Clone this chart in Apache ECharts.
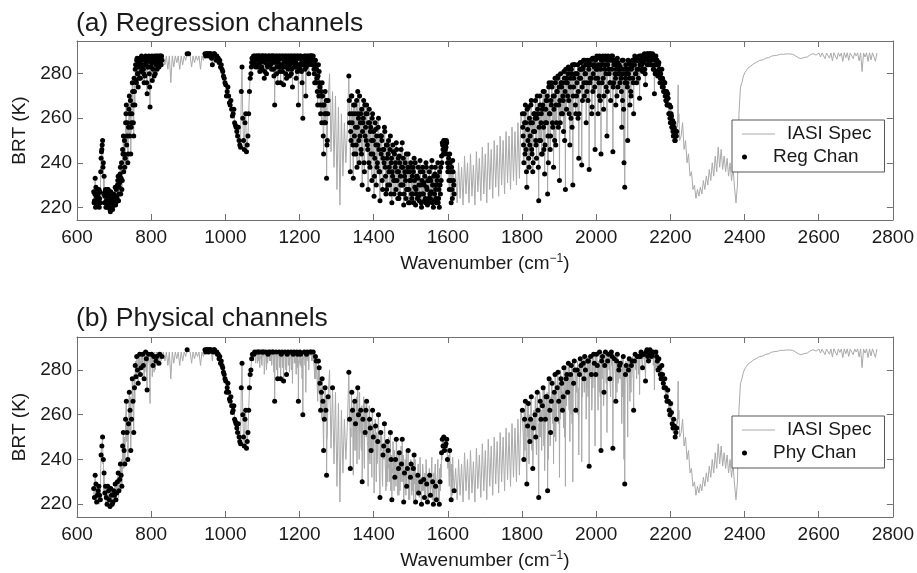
<!DOCTYPE html>
<html>
<head>
<meta charset="utf-8">
<title>IASI channels</title>
<script src="https://cdn.jsdelivr.net/npm/echarts@6/dist/echarts.min.js"></script>
<style>
  html, body { margin: 0; padding: 0; background: #fff; }
  #chart { width: 917px; height: 573px; }
</style>
</head>
<body>
<div id="chart"></div>
<script>
// IASI spectrum, brightness temperature (K), sampled every 4 cm-1 in the three bands
var band1Start = 645;
var band1Brt = [
    227, 233, 221, 226, 224, 242, 250, 234, 228, 220, 226, 219, 224, 221,                   // 645-697
    224, 222, 230, 226, 238, 228, 252, 238, 266, 240, 270, 244, 276, 252, 282,              // 701-757
    286, 274, 287, 281, 287, 276, 288, 271, 287, 265, 287, 282, 288, 284, 288, 283, 288, 286, // 761-829
    288, 284, 288, 282, 288, 276, 288, 283, 288, 285, 288, 282, 288, 284, 288,
    286, 289, 289, 288, 283, 288, 285, 288, 286, 288, 282, 288, 286, 289, 289,              // 833-949
    289, 289, 289, 284, 289, 288, 288, 287, 286, 284, 281, 278,                             // 953-997
    275, 272, 270, 266, 264, 262, 258, 256, 252, 250, 247, 283, 250, 258, 245, 252, 272,    // 1001-1065
    280, 287, 287, 284, 288, 288, 281, 288, 288, 278, 288, 284, 288, 288, 282, 288, 266, 288,
    276, 288, 276, 288, 275, 288, 278, 288, 279, 288, 274, 288, 283, 288, 266, 288, 281, 260 // 1069-1209
];
var band2Start = 1213;
var band2Brt = [
    288, 270, 288, 280, 288, 284, 288, 276, 284, 266, 281, 262, 276, 244, 272, 233, 268,    // 1213-1277
    280, 245, 272, 238, 270, 228, 265, 221, 262, 234, 258, 240, 255,                        // 1281-1329
    279, 236, 270, 233, 266, 248, 272, 240, 262, 230, 268, 252, 266, 228, 258, 244, 262, 225,
    255, 238, 260, 223, 252, 242, 256, 226, 248, 236, 252, 222, 245, 232, 249, 224, 243, 230,
    249, 221, 240, 228, 244, 222, 238, 226, 242, 221, 234, 225, 241, 220, 236, 223, 240, 221,
    232, 224, 241, 220, 235, 222, 240, 220, 238, 249, 250, 246, 249, 238, 244, 222, 241, 226, // 1333-1617
    236, 222, 240, 224, 238, 221, 243, 226, 240, 222, 244, 225, 239, 221, 245, 227, 242, 223,
    247, 226, 244, 222, 249, 228, 246, 224, 250, 229, 248, 225, 252, 230, 250, 226, 254, 231,
    252, 228, 256, 232, 254, 230, 258, 233, 262,                                            // 1621-1797
    262, 240, 266, 229, 265, 248, 268, 236, 262, 250, 270, 223, 266, 244, 272, 235, 268, 226,
    276, 252, 274, 238, 278, 258, 279, 232, 276, 262, 281, 228, 278, 283, 248, 282, 230, 284,
    262, 280, 242, 285, 239, 283, 286, 258, 284, 237, 286, 265, 287, 246                    // 1801-1997
];
var band3Start = 2001;
var band3Brt = [
    287, 262, 288, 244, 286, 270, 288, 252, 287, 276, 288, 245, 285, 266, 287, 280, 283, 256, 286,
    229, 282, 250, 285, 272, 284, 262, 287, 276, 286, 269, 288, 281, 287, 275, 289, 284, 289, 286,
    288, 271, 288, 284, 285, 278, 282, 274, 276, 268, 271, 262, 265, 256, 258, 250, 254, 275, 250, // 2001-2225
    252, 258, 246, 250, 240, 244, 234, 236, 228, 230, 224, 228, 225, 229, 226, 232, 228, 234, 230,
    237, 232, 240, 234, 243, 236, 247, 238, 246, 237, 243, 236, 242, 234, 240, 232, 238, 229, 222,
    230, 262, 274,                                                                          // 2229-2389
    276, 279, 280.5, 281.5, 282.5, 283, 283.5, 284, 284.5, 284.8, 285.2, 285.6, 286, 286.3, 286.2,
    286.8, 287, 287.3, 287.2, 287.6, 287.9, 288, 288.2, 288.4, 288.3, 288.6, 288.8, 288.9, 288.7,
    289, 288.9, 288.8, 288.9, 288.6, 288.8, 288.4, 288.1, 287.8, 287.2, 287.6, 286.8, 286.5, 287.3,
    286.6, 287.5, 288.2, 288.5, 288.8, 289, 289.2, 288.4, 289.2, 289.3, 287.5, 289.3, 289.2, 286.8,
    289.3, 289.4, 287, 289.3, 285.8, 289.4, 289.2, 286.5, 289.4, 287.8, 289.3, 285.5, 289.4, 287.2,
    289.4, 286, 289.3, 289.4, 286.8, 289.4, 288, 289.4, 285.8, 289.4, 281, 289.3, 287.5, 289.4,
    285.5, 289.4, 286.2, 289.4, 289.2, 285.6, 289.3                                         // 2393-2757
];

// extra samples halfway between the 4 cm-1 points (step 4, offset 2)
var fill1Start = 647;   // 647-827
var fill1Brt = [
    223, 229, 224, 228, 222, 246, 240, 225, 223, 228,
    222, 227, 220, 226, 229, 225, 234, 231, 233, 246,
    244, 258, 252, 256, 262, 258, 266, 272, 277, 280,
    283, 278, 284, 282, 279, 285, 283, 280, 285, 277,
    286, 280, 286, 285, 287, 284
];
var fill2Start = 947;   // 947-1275
var fill2Brt = [
    288, 289, 288, 289, 287, 288, 289, 286, 287, 285, 283, 282, 279, 276,
    270, 274, 267, 268, 261, 264, 257, 254, 256, 248, 272, 260, 246, 262, 248, 262, 278,
    285, 284, 288, 286, 283, 288, 285, 282, 288, 285,
    280, 287, 284, 286, 288, 279, 286, 283, 286, 281,
    287, 283, 286, 280, 287, 284, 286, 282, 287, 285,
    278, 287, 283, 287, 276,
    284, 282, 287, 284, 286, 288, 286, 282, 286, 278, 284, 274, 270, 266, 258, 262, 250
];
var fill3Start = 1335;  // 1335-1615
var fill3Brt = [
    258, 250, 262, 244, 256, 238, 260, 252, 244, 258,
    236, 262, 248, 240, 254, 232, 250, 242, 230, 248,
    236, 252, 232, 246, 238, 228, 244, 230, 240, 234,
    226, 240, 232, 236, 226, 238, 230, 234, 224, 236,
    228, 232, 224, 236, 229, 226, 233, 223, 230, 226,
    231, 224, 229, 222, 233, 227, 230, 223, 228, 232,
    224, 230, 243, 246, 244, 247, 240, 232, 236, 228,
    232
];
var fill4Start = 1803;  // 1803-2223
var fill4Brt = [
    252, 258, 246, 255, 238, 258, 244, 254, 260, 242,
    262, 250, 258, 264, 246, 258, 268, 240, 262, 266,
    256, 270, 248, 272, 266, 258, 274, 268, 250, 276,
    270, 262, 278, 256, 274, 280, 270, 260, 278, 282,
    268, 276, 280, 272, 284, 276, 278, 272, 283, 278,
    282, 276, 268, 284, 278, 282, 274, 284, 280, 268,
    286, 276, 280, 284, 274, 282, 278, 268, 240, 278,
    276, 280, 266, 282, 278, 284, 280, 286, 282, 286,
    284, 287, 282, 288, 286, 287, 284, 287, 282, 280,
    286, 280, 281, 276, 278, 272, 272, 266, 266, 260,
    261, 254, 255, 252, 256, 262
];

// odd-offset samples (step 2, even wavenumbers) in the densest channel blocks
var fill5Start = 646;   // 646-700
var fill5Brt = [
    222, 226, 220, 225, 228, 222, 224, 220, 227, 236,
    245, 248, 238, 226, 222, 227, 220, 225, 222, 228,
    220, 224, 218, 222, 226, 219, 223, 221
];
var fill6Start = 702;   // 702-828
var fill6Brt = [
    225, 221, 228, 224, 232, 223, 229, 235, 226, 240,
    232, 244, 236, 250, 242, 262, 248, 258, 244, 264,
    252, 268, 256, 262, 272, 258, 278, 266, 284, 276,
    287, 280, 285, 278, 286, 284, 288, 282, 286, 280,
    287, 284, 287, 276, 286, 283, 288, 274, 286, 283,
    288, 285, 287, 279, 287, 286, 288, 282, 287, 286,
    288, 285, 287, 288
];
var fill7Start = 1070;  // 1070-1276
var fill7Brt = [
    283, 287, 285, 288, 286, 287, 283, 288, 286, 287,
    284, 288, 286, 287, 283, 288, 286, 287, 281, 288,
    286, 287, 283, 288, 286, 287, 284, 288, 285, 287,
    282, 288, 285, 287, 280, 288, 285, 287, 283, 288,
    284, 287, 281, 288, 285, 287, 283, 288, 285, 287,
    282, 288, 284, 287, 280, 288, 285, 287, 283, 288,
    285, 287, 281, 288, 284, 287, 282, 288, 285, 287,
    284, 287, 285, 288, 283, 287, 285, 288, 286, 287,
    288, 286, 288, 284, 286, 280, 284, 276, 282, 272,
    279, 270, 276, 266, 272, 258, 270, 252, 266, 262,
    258, 268, 248, 262
];
var fill8Start = 1334;  // 1334-1616
var fill8Brt = [
    268, 262, 254, 270, 258, 248, 266, 252, 262, 244,
    268, 256, 262, 250, 270, 258, 246, 264, 254, 260,
    240, 266, 256, 250, 262, 246, 258, 264, 238, 256,
    250, 260, 244, 254, 234, 258, 248, 252, 240, 256,
    246, 236, 252, 244, 250, 228, 246, 240, 254, 234,
    248, 242, 230, 250, 238, 246, 226, 242, 236, 248,
    232, 244, 238, 228, 246, 236, 242, 224, 240, 234,
    246, 230, 238, 242, 226, 236, 232, 244, 228, 238,
    222, 236, 232, 240, 226, 234, 238, 222, 232, 240,
    228, 234, 224, 238, 230, 226, 236, 222, 232, 238,
    226, 230, 234, 222, 238, 228, 232, 224, 236, 226,
    232, 238, 222, 230, 234, 226, 238, 224, 230, 234,
    222, 228, 236, 226, 232, 240, 248, 244, 250, 246,
    248, 250, 244, 236, 242, 228, 240, 232, 238, 224,
    236, 230
];
var fill9Start = 1802;  // 1802-2222
var fill9Brt = [
    256, 248, 262, 244, 258, 236, 264, 250, 242, 260,
    252, 266, 246, 258, 240, 262, 254, 268, 248, 260,
    264, 238, 256, 270, 250, 262, 244, 266, 256, 272,
    248, 264, 258, 270, 252, 274, 262, 246, 268, 276,
    258, 270, 264, 250, 276, 266, 272, 278, 256, 274,
    268, 280, 262, 276, 270, 254, 278, 272, 282, 264,
    276, 280, 268, 282, 274, 260, 280, 284, 270, 278,
    284, 266, 280, 276, 284, 272, 262, 282, 278, 285,
    274, 282, 286, 270, 280, 284, 276, 286, 268, 282,
    286, 278, 284, 262, 287, 280, 284, 274, 286, 282,
    288, 278, 284, 270, 287, 282, 286, 276, 288, 264,
    284, 287, 280, 286, 272, 288, 282, 286, 276, 287,
    282, 288, 274, 284, 286, 278, 282, 270, 285, 280,
    284, 276, 282, 272, 286, 280, 264, 282, 276, 284,
    280, 274, 286, 282, 278, 284, 270, 283, 286, 276,
    284, 288, 280, 286, 282, 287, 278, 288, 284, 286,
    288, 282, 287, 285, 289, 280, 287, 288, 284, 289,
    286, 288, 289, 284, 287, 289, 282, 288, 284, 286,
    281, 286, 279, 284, 282, 276, 280, 278, 274, 277,
    272, 276, 270, 268, 272, 266, 269, 262, 266, 258,
    262, 256, 259, 252, 256, 250, 254, 252, 258, 256,
    258
];

// regression channels: continuous wavenumber ranges (cm-1)
var regRanges = [[645, 829], [897, 901], [945, 1277], [1333, 1617], [1801, 2217]];

// physical channels: individual wavenumbers (cm-1)
var phyChannels = [
    645, 647, 649, 651, 653, 655, 657, 659, 661, 663, 665, 667, 669, 671, 673, 675, 677, 679,
    681, 683, 685, 687, 689, 691, 693, 695, 697, 699, 701, 703, 705, 707, 709, 711, 713, 715,
    717, 719, 721, 723, 725, 727, 729, 731, 733, 735, 737, 739, 741, 743, 745, 747, 749, 751,
    753, 755, 757, 759,
    761, 763, 765, 769, 771, 773, 777, 779, 781, 785, 787, 789, 793, 801, 805, 807, 813, 815,
    821, 823, 829, 897,
    945, 947, 949, 951, 953, 955, 957, 959, 961, 967, 969, 971, 973, 977, 979, 981, 983, 985,
    987, 989, 991, 993, 995, 997, 999,
    1001, 1003, 1005, 1007, 1009, 1011, 1013, 1015, 1017, 1019, 1021, 1023, 1025, 1027, 1029,
    1031, 1033, 1035, 1037, 1039, 1041, 1043, 1045, 1047, 1049, 1051, 1053, 1055, 1057, 1059,
    1061, 1063, 1065, 1067,
    1069, 1071, 1073, 1077, 1079, 1085, 1089, 1091, 1097, 1101, 1103, 1109, 1115, 1117, 1121,
    1127, 1129, 1133, 1137, 1141, 1145, 1149, 1151, 1153, 1157, 1161, 1165, 1167, 1169, 1177,
    1183, 1185, 1193, 1195, 1197, 1201, 1203, 1209,
    1213, 1219, 1221, 1229, 1231, 1237, 1243, 1245, 1251, 1253, 1255, 1257, 1259, 1261, 1263,
    1265, 1267, 1269, 1271, 1273, 1277, 1289,
    1333, 1335, 1337, 1341, 1343, 1349, 1351, 1357, 1359, 1365, 1369, 1371, 1377, 1379, 1381,
    1389, 1391, 1393, 1397, 1399, 1405, 1411, 1413, 1417, 1419, 1425, 1427, 1429, 1437, 1439,
    1445, 1447, 1449, 1457, 1459, 1461, 1467, 1469, 1475, 1477, 1481, 1483, 1489, 1491, 1493,
    1499, 1501, 1507, 1509, 1513, 1519, 1521, 1527, 1529, 1535, 1537, 1543, 1545, 1551, 1553,
    1559, 1561, 1567, 1569, 1577, 1579, 1583, 1585, 1587, 1589, 1591, 1593, 1595, 1597, 1599,
    1605, 1609, 1617,
    1801, 1805, 1807, 1809, 1813, 1815, 1817, 1821, 1823, 1825, 1829, 1831, 1835, 1837, 1841,
    1843, 1845, 1849, 1851, 1855, 1857, 1863, 1865, 1867, 1869, 1873, 1875, 1877, 1879, 1881,
    1887, 1889, 1893, 1895, 1897, 1899, 1905, 1907, 1909, 1911, 1913, 1919, 1921, 1923, 1925,
    1931, 1933, 1939, 1941, 1943, 1945, 1949, 1955, 1957, 1959, 1965, 1967, 1969, 1971, 1977,
    1979, 1981, 1985, 1987, 1993, 1995, 1999,
    2001, 2003, 2009, 2013, 2015, 2017, 2021, 2023, 2025, 2031, 2033, 2037, 2041, 2043, 2045,
    2049, 2053, 2055, 2057, 2061, 2063, 2065, 2073, 2077, 2079, 2081, 2087, 2089, 2095, 2097,
    2101, 2103, 2105, 2111, 2113, 2119, 2121, 2125, 2127, 2129, 2133, 2135, 2137, 2139, 2141,
    2143, 2145, 2149, 2151, 2153, 2161, 2163, 2165, 2167, 2169, 2171, 2173, 2175, 2177, 2179,
    2181, 2183, 2185, 2187, 2189, 2191, 2193, 2195, 2197, 2199, 2201, 2203, 2205, 2207, 2209,
    2211, 2213, 2215, 2217
];

var brtTicks = [220, 240, 260, 280];

// ---- build series data ----
var spec = [];
function addBand(start, values, step) {
    for (var i = 0; i < values.length; i++) {
        spec.push([start + i * step, values[i]]);
    }
}
addBand(band1Start, band1Brt, 4);
addBand(band2Start, band2Brt, 4);
addBand(band3Start, band3Brt, 4);
addBand(fill1Start, fill1Brt, 4);
addBand(fill2Start, fill2Brt, 4);
addBand(fill3Start, fill3Brt, 4);
addBand(fill4Start, fill4Brt, 4);
addBand(fill5Start, fill5Brt, 2);
addBand(fill6Start, fill6Brt, 2);
addBand(fill7Start, fill7Brt, 2);
addBand(fill8Start, fill8Brt, 2);
addBand(fill9Start, fill9Brt, 2);
spec.sort(function (a, b) { return a[0] - b[0]; });

function brtAt(wn) {
    var best = spec[0];
    for (var i = 0; i < spec.length; i++) {
        if (Math.abs(spec[i][0] - wn) < Math.abs(best[0] - wn)) best = spec[i];
    }
    return best;
}

var regData = spec.filter(function (p) {
    return regRanges.some(function (r) { return p[0] >= r[0] && p[0] <= r[1]; });
});
var phyData = phyChannels.map(brtAt);

// ---- styling ----
var FONT = '"Liberation Sans", Arial, sans-serif';
var frame = '#707070';
var ink = '#1a1a1a';
var specGrey = '#aaaaaa';

function xPair(grid) {
    var base = {
        gridIndex: grid, type: 'value', min: 600, max: 2800, interval: 200,
        axisLine: {onZero: false, lineStyle: {color: frame, width: 1}},
        axisTick: {inside: true, length: 6, lineStyle: {color: frame}},
        splitLine: {show: false}
    };
    var bottom = Object.assign({}, base, {
        position: 'bottom',
        name: 'Wavenumber (cm{sup|−1})',
        nameLocation: 'middle', nameGap: 33,
        nameTextStyle: {
            fontFamily: FONT, fontSize: 19, color: ink, lineHeight: 22,
            rich: {sup: {fontFamily: FONT, fontSize: 12, color: ink, verticalAlign: 'top', lineHeight: 12}}
        },
        axisLabel: {
            fontFamily: FONT, fontSize: 19, color: ink, margin: 8,
            formatter: function (v) { return String(v); }
        }
    });
    var top = Object.assign({}, base, {position: 'top', axisLabel: {show: false}});
    return [bottom, top];
}

function yPair(grid) {
    var base = {
        gridIndex: grid, type: 'value', min: 214.3, max: 294.7,
        axisLine: {onZero: false, lineStyle: {color: frame, width: 1}},
        axisTick: {inside: true, length: 6, customValues: brtTicks, lineStyle: {color: frame}},
        splitLine: {show: false}
    };
    var left = Object.assign({}, base, {
        position: 'left',
        name: 'BRT (K)', nameLocation: 'middle', nameGap: 39, nameRotate: 90,
        nameTextStyle: {fontFamily: FONT, fontSize: 19, color: ink},
        axisLabel: {fontFamily: FONT, fontSize: 19, color: ink, margin: 5, customValues: brtTicks}
    });
    var right = Object.assign({}, base, {position: 'right', axisLabel: {show: false}});
    return [left, right];
}

function legendPair(top, chanName) {
    var text = {fontFamily: FONT, fontSize: 19, color: ink, lineHeight: 22, rich: {g: {width: 7}}};
    return [{
        left: 732, top: top, orient: 'vertical', padding: [3, 13, 27, 10],
        itemWidth: 33, itemHeight: 1, itemGap: 0,
        borderColor: '#555', borderWidth: 1, backgroundColor: '#fff',
        data: [{name: 'IASI Spec', icon: 'rect'}], formatter: '{g| }{name}', textStyle: text,
        selectedMode: false, z: 10
    }, {
        left: 742, top: top + 26, orient: 'vertical', padding: 0,
        itemWidth: 33, itemHeight: 5, itemGap: 0,
        data: [{name: chanName, icon: 'circle'}], formatter: '{g| }{name}', textStyle: text,
        selectedMode: false, z: 11
    }];
}

function specSeries(idx) {
    return {
        name: 'IASI Spec', type: 'line', xAxisIndex: idx, yAxisIndex: idx,
        data: spec, symbol: 'none', showSymbol: false,
        lineStyle: {color: specGrey, width: 1}, itemStyle: {color: specGrey},
        silent: true, z: 2
    };
}

function chanSeries(idx, name, data) {
    return {
        name: name, type: 'scatter', xAxisIndex: idx, yAxisIndex: idx,
        data: data, symbol: 'circle', symbolSize: 5,
        itemStyle: {color: '#000', opacity: 1}, silent: true, z: 3
    };
}

var chart = echarts.init(document.getElementById('chart'));
chart.setOption({
    animation: false,
    backgroundColor: '#fff',
    title: [
        {text: '(a) Regression channels', left: 76, top: 10, padding: 0,
         textStyle: {fontFamily: FONT, fontSize: 26.5, fontWeight: 'normal', color: ink}},
        {text: '(b) Physical channels', left: 76, top: 305, padding: 0,
         textStyle: {fontFamily: FONT, fontSize: 26.5, fontWeight: 'normal', color: ink}}
    ],
    grid: [
        {left: 77, top: 41, width: 818, height: 179},
        {left: 77, top: 337, width: 818, height: 180}
    ],
    xAxis: xPair(0).concat(xPair(1)),
    yAxis: yPair(0).concat(yPair(1)),
    legend: legendPair(120, 'Reg Chan').concat(legendPair(416, 'Phy Chan')),
    series: [
        specSeries(0),
        chanSeries(0, 'Reg Chan', regData),
        specSeries(2),
        chanSeries(2, 'Phy Chan', phyData)
    ]
});
</script>
</body>
</html>
